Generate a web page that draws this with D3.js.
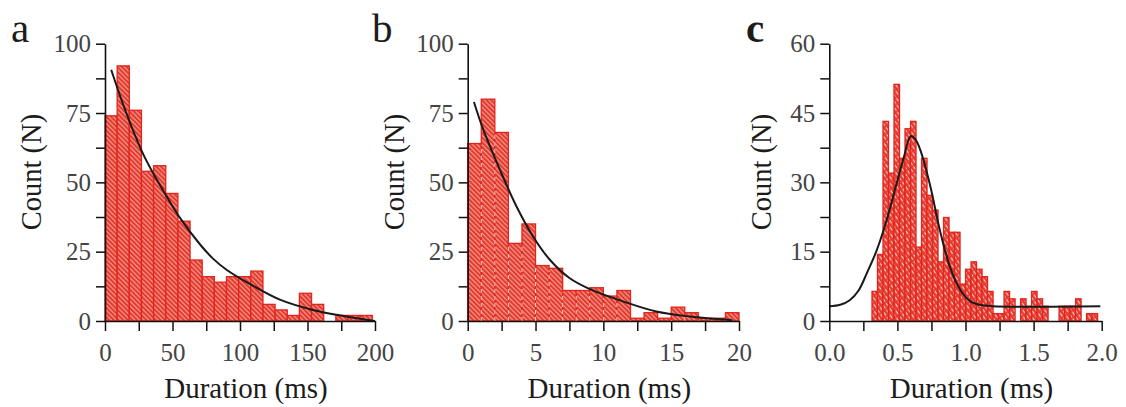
<!DOCTYPE html>
<html><head><meta charset="utf-8">
<script src="https://cdn.jsdelivr.net/npm/d3@7"></script>
<style>html,body{margin:0;padding:0;background:#fff;} svg{display:block;}
svg text{font-family:"Liberation Serif","Times New Roman","DejaVu Serif",serif;}</style>
</head><body><svg id="chart" width="1126" height="407"></svg>
<script>
// ================= DATA =================
const panelLetters = ["a", "b", "c"];
const xTitle = "Duration (ms)";
const yTitle = "Count (N)";

// panel a : 9-ms bins starting at 0
const aBinStart = 0, aBinWidth = 9;
const aCounts = [74, 92, 76, 54, 56, 46, 36, 22, 16, 14, 16, 16, 18, 6, 4, 2, 10, 6, 0, 2, 2, 2];
const aFit = [[4.6, 90.6], [15, 76], [27.5, 61], [36, 53], [45, 45.5], [55.8, 37], [70.6, 27.5], [80, 22.5],
              [90, 18.5], [107.5, 13.3], [130, 7.6], [154, 4], [179, 1.6], [200, 0]];
const aXTicks = [0, 50, 100, 150, 200];
const aYTicks = [0, 25, 50, 75, 100];

// panel b : 1-ms bins starting at 0
const bBinStart = 0, bBinWidth = 1;
const bCounts = [64, 80, 68, 28, 35, 20, 19, 11, 11, 12, 9, 11, 1, 3, 1, 5, 3, 1, 1, 3];
const bFit = [[0.46, 79], [1.15, 69], [2.38, 54.5], [3.6, 41.3], [4.83, 30.4], [6.07, 22], [7.5, 15.5],
              [9.0, 11.5], [11.5, 7], [13.9, 3.4], [16.4, 1.6], [19.5, 0.3]];
const bXTicks = [0, 5, 10, 15, 20];
const bYTicks = [0, 25, 50, 75, 100];

// panel c : narrow bins starting near 0.31 ms
const cBinStart = 0.3135, cBinWidth = 0.0404;
const cCounts = [6.4, 14.4, 43.2, 32, 51.2, 35.2, 41.6, 43.2, 16, 35.2, 27.2, 24, 12.8, 22.4, 19.2, 19.2,
                 8, 11.2, 12.8, 11.2, 9.6, 6.4, 1.6, 1.6, 6.4, 4.8, 0, 4.8, 3.2, 6.4, 4.8, 3.2, 0, 0,
                 3.2, 3.2, 3.2, 4.8, 0, 1.6, 1.6];
const cFit = [[0, 3.2], [0.08, 3.5], [0.15, 4.5], [0.215, 6.6], [0.275, 10.3], [0.348, 15.3], [0.421, 21.8],
              [0.495, 29.8], [0.545, 35.2], [0.598, 40], [0.63, 39.4], [0.666, 37.2], [0.739, 29.5],
              [0.813, 19.5], [0.886, 11.7], [0.96, 6.8], [1.033, 4.3], [1.106, 3.5], [1.2, 3.2], [1.99, 3.2]];
const cXTicks = [0, 0.5, 1.0, 1.5, 2.0];
const cYTicks = [0, 15, 30, 45, 60];

// ================= LAYOUT / STYLE =================
const svg = d3.select("#chart");

const panels = [
  {letter: panelLetters[0], counts: aCounts, start: aBinStart, width: aBinWidth, fit: aFit,
   xTicks: aXTicks, yTicks: aYTicks, xfmt: d3.format("d"),
   x0: 105, x1: 375, letterX: 11, yTitleX: 41, pattern: "hatchA", bold: false, seams: false},
  {letter: panelLetters[1], counts: bCounts, start: bBinStart, width: bBinWidth, fit: bFit,
   xTicks: bXTicks, yTicks: bYTicks, xfmt: d3.format("d"),
   x0: 467.7, x1: 739, letterX: 372, yTitleX: 404, pattern: "hatchA", bold: false, seams: true},
  {letter: panelLetters[2], counts: cCounts, start: cBinStart, width: cBinWidth, fit: cFit,
   xTicks: cXTicks, yTicks: cYTicks, xfmt: d3.format(".1f"),
   x0: 829.3, x1: 1101.7, letterX: 746, yTitleX: 771, pattern: "hatchC", bold: true, seams: false}
];
const yTop = 43.7, yBot = 321;

// hatch patterns
const defs = svg.append("defs");
const pA = defs.append("pattern").attr("id", "hatchA").attr("patternUnits", "userSpaceOnUse")
  .attr("width", 3.3).attr("height", 3.3).attr("patternTransform", "rotate(-45)");
pA.append("rect").attr("width", 3.3).attr("height", 3.3).attr("fill", "#e4392e");
pA.append("line").attr("x1", 1).attr("y1", 0).attr("x2", 1).attr("y2", 3.3)
  .attr("stroke", "#f4a397").attr("stroke-width", 1.1);
const pC = defs.append("pattern").attr("id", "hatchC").attr("patternUnits", "userSpaceOnUse")
  .attr("width", 3.6).attr("height", 6).attr("patternTransform", "rotate(-35)");
pC.append("rect").attr("width", 3.6).attr("height", 6).attr("fill", "#e63a2f");
pC.append("line").attr("x1", 1.2).attr("y1", 0.5).attr("x2", 1.2).attr("y2", 4.5)
  .attr("stroke", "#fcd8d2").attr("stroke-width", 1.1);

function isMajor(v, list) { return list.some(t => Math.abs(t - v) < 1e-9); }

panels.forEach(p => {
  const xMax = p.xTicks[p.xTicks.length - 1];
  const yMax = p.yTicks[p.yTicks.length - 1];
  const x = d3.scaleLinear().domain([0, xMax]).range([p.x0, p.x1]);
  const y = d3.scaleLinear().domain([0, yMax]).range([yBot, yTop]);
  const g = svg.append("g");

  // bars (keep the bin index with each value)
  const allBins = p.counts.map((v, i) => ({v, lo: p.start + i * p.width, prev: i > 0 ? p.counts[i - 1] : 0}));
  const bins = allBins.filter(d => d.v > 0);
  g.append("g").selectAll("rect").data(bins).join("rect")
    .attr("x", d => x(d.lo))
    .attr("width", x(p.width) - x(0))
    .attr("y", d => y(d.v))
    .attr("height", d => y(0) - y(d.v))
    .attr("fill", `url(#${p.pattern})`)
    .attr("stroke", "#e2241c").attr("stroke-width", 1.3);

  // pale dashed seams between adjacent bars (panel b)
  if (p.seams) {
    g.append("g").selectAll("line").data(allBins.filter(d => d.v > 0 && d.prev > 0)).join("line")
      .attr("x1", d => x(d.lo)).attr("x2", d => x(d.lo))
      .attr("y1", y(0)).attr("y2", d => y(Math.min(d.v, d.prev)) + 2)
      .attr("stroke", "#fbd2cb").attr("stroke-width", 1).attr("stroke-dasharray", "4,3");
  }

  // fit line
  g.append("path").datum(p.fit)
    .attr("d", d3.line().x(d => x(d[0])).y(d => y(d[1])).curve(d3.curveCatmullRom.alpha(0.5)))
    .attr("fill", "none").attr("stroke", "#1a1a1a").attr("stroke-width", 2);

  // axes: a tick at every half step of the labelled ticks
  const xStep = p.xTicks[1] - p.xTicks[0];
  const yStep = p.yTicks[1] - p.yTicks[0];
  const xAll = d3.range(0, 2 * (p.xTicks.length - 1) + 1).map(k => k * xStep / 2);
  const yAll = d3.range(0, 2 * (p.yTicks.length - 1) + 1).map(k => k * yStep / 2);

  const xAxis = d3.axisBottom(x).tickValues(xAll).tickSize(10).tickSizeOuter(0).tickPadding(12)
    .tickFormat(v => isMajor(v, p.xTicks) ? p.xfmt(v) : "");
  const yAxis = d3.axisLeft(y).tickValues(yAll).tickSize(9).tickSizeOuter(0).tickPadding(5)
    .tickFormat(v => isMajor(v, p.yTicks) ? d3.format("d")(v) : "");

  const gx = g.append("g").attr("transform", `translate(0,${yBot})`).call(xAxis);
  const gy = g.append("g").attr("transform", `translate(${p.x0},0)`).call(yAxis);
  [gx, gy].forEach(a => {
    a.attr("font-family", null);
    a.select(".domain").attr("stroke", "#111").attr("stroke-width", 1.6);
    a.selectAll(".tick line").attr("stroke", "#111").attr("stroke-width", 1.5);
    a.selectAll(".tick text").attr("font-size", 25).attr("fill", "#444");
  });

  // titles
  g.append("text").attr("x", (p.x0 + p.x1) / 2 + 6).attr("y", 398)
    .attr("text-anchor", "middle").attr("font-size", 29).attr("fill", "#1c1c1c")
    .text(xTitle);
  g.append("text").attr("transform", `translate(${p.yTitleX},172) rotate(-90)`)
    .attr("text-anchor", "middle").attr("font-size", 28.5).attr("fill", "#1c1c1c")
    .text(yTitle);
  g.append("text").attr("x", p.letterX).attr("y", 42)
    .attr("font-size", 41).attr("font-weight", p.bold ? "bold" : "normal")
    .attr("fill", "#1c1c1c").text(p.letter);
});
</script></body></html>
